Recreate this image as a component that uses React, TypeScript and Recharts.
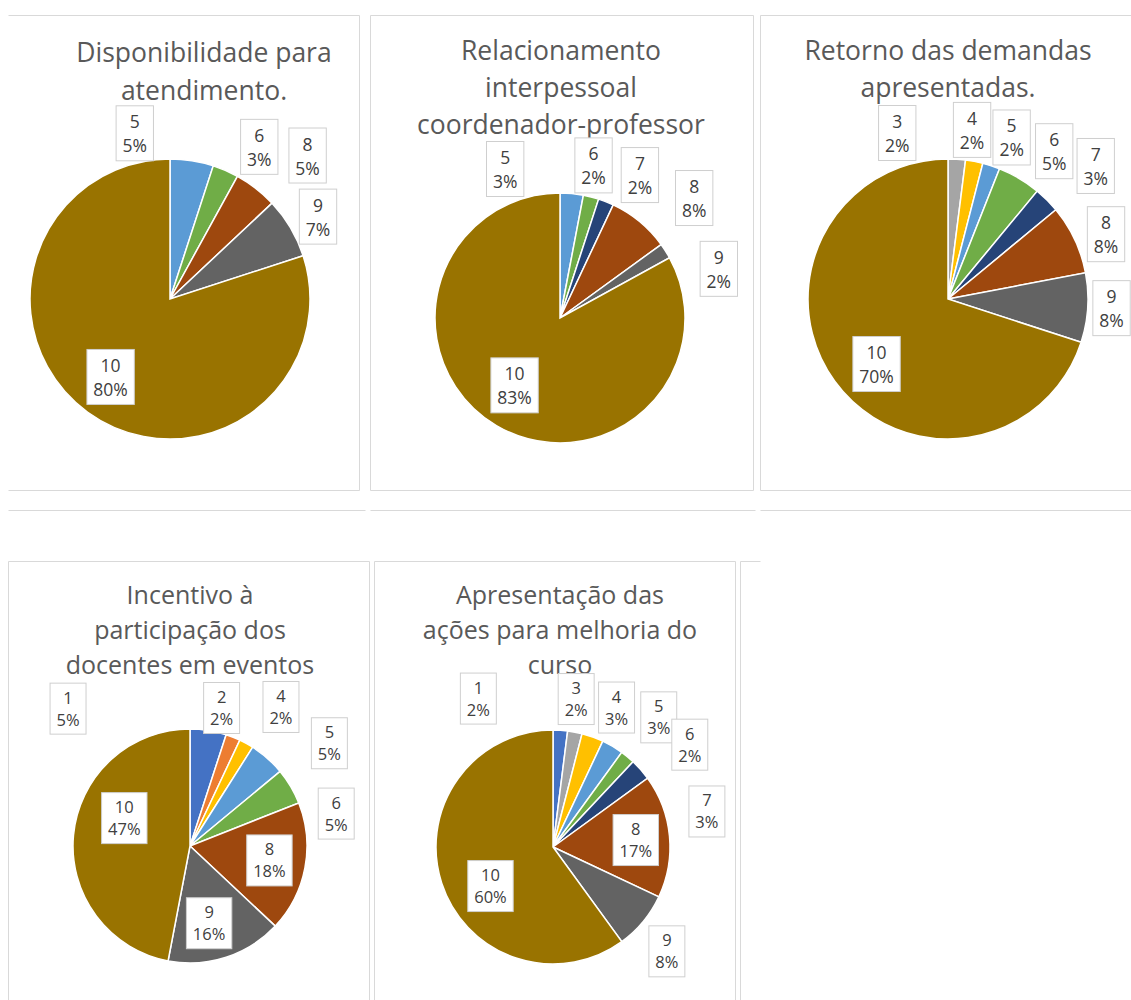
import React from "react";
import { PieChart, Pie, Cell } from "recharts";

/* ── category colours (Excel office palette, one per score) ───────── */
const COLORS: Record<string, string> = {
  "1": "#4472C4",
  "2": "#ED7D31",
  "3": "#A5A5A5",
  "4": "#FFC000",
  "5": "#5B9BD5",
  "6": "#70AD47",
  "7": "#264478",
  "8": "#9E480E",
  "9": "#636363",
  "10": "#997300",
};

/* ── data (percent share of each score) ──────────────────────────── */
const dispCats = ["5", "6", "8", "9", "10"];
const dispVals = [5, 3, 5, 7, 80];

const relCats = ["5", "6", "7", "8", "9", "10"];
const relVals = [3, 2, 2, 8, 2, 83];

const retCats = ["3", "4", "5", "6", "7", "8", "9", "10"];
const retVals = [2, 2, 2, 5, 3, 8, 8, 70];

const incCats = ["1", "2", "4", "5", "6", "8", "9", "10"];
const incVals = [5, 2, 2, 5, 5, 18, 16, 47];

const apsCats = ["1", "3", "4", "5", "6", "7", "8", "9", "10"];
const apsVals = [2, 2, 3, 3, 2, 3, 17, 8, 60];

/* label placement: [radius factor, angular nudge in deg clockwise] */
const dispLabels = [[1.21, -21], [1.26, 7], [1.42, 6], [1.21, 1.5], [0.7, 1.3]];
const relLabels = [[1.27, -25.6], [1.25, -2], [1.31, 7.6], [1.44, 8.6], [1.33, 15.2], [0.65, 3.4]];
const retLabels = [[1.24, -20.6], [1.22, -2.7], [1.24, 3.5], [1.3, 5.1], [1.42, 3], [1.22, 2.9], [1.17, -0.4], [0.69, -6.3]];
const incLabels = [[1.57, -50.6], [1.21, -8.7], [1.42, 4.4], [1.48, 12.2], [1.28, 18.1], [0.69, -0.5], [0.68, 4.1], [0.61, 17.6]];
const apsLabels = [[1.42, -30.3], [1.28, -1.9], [1.31, 4.7], [1.43, 8.6], [1.46, 13.6], [1.35, 28.4], [0.71, 0.6], [1.32, 2.9], [0.63, -14]];

const FONT = '"Open Sans", "Noto Sans", sans-serif';
const FRAME = "#D9D9D9";

function textWidth(s: string, size: number) {
  let w = 0;
  for (const ch of s) w += ch === "%" ? 0.82 : 0.572;
  return w * size;
}

function makeLabel(layout: number[][], fontSize: number, gap: number, boxH: number) {
  return (props: any) => {
    const { cx, cy, midAngle, outerRadius, index, percent } = props;
    const cat = props.cat ?? props.payload?.cat ?? props.name;
    const [rf, nudge] = layout[index] || [1.2, 0];
    const t = ((90 - midAngle + nudge) * Math.PI) / 180;
    const x = cx + outerRadius * rf * Math.sin(t);
    const y = cy - outerRadius * rf * Math.cos(t);
    const pct = `${Math.round(percent * 100)}%`;
    const w = textWidth(pct, fontSize) + 13;
    return (
      <g key={`lbl-${index}`}>
        <rect
          x={x - w / 2}
          y={y - boxH / 2}
          width={w}
          height={boxH}
          fill="#fff"
          stroke="#CFCFCF"
          strokeWidth={1}
        />
        <text
          x={x}
          textAnchor="middle"
          fontFamily={FONT}
          fontSize={fontSize}
          fill="#404040"
        >
          <tspan x={x} y={y - 5}>{cat}</tspan>
          <tspan x={x} y={y - 5 + gap}>{pct}</tspan>
        </text>
      </g>
    );
  };
}

interface PanelProps {
  left: number;
  top: number;
  width: number;
  height: number;
  cx: number;
  cy: number;
  r: number;
  cats: string[];
  vals: number[];
  layout: number[][];
  fontSize: number;
  gap: number;
  boxH: number;
}

function PiePanel(p: PanelProps) {
  const data = p.cats.map((c, i) => ({ cat: c, value: p.vals[i] }));
  return (
    <div style={{ position: "absolute", left: p.left, top: p.top, width: p.width, height: p.height }}>
      <PieChart width={p.width} height={p.height} margin={{ top: 0, right: 0, bottom: 0, left: 0 }}>
        <Pie
          data={data}
          dataKey="value"
          nameKey="cat"
          cx={p.cx}
          cy={p.cy}
          outerRadius={p.r}
          startAngle={90}
          endAngle={-270}
          stroke="#fff"
          strokeWidth={1.5}
          labelLine={false}
          label={makeLabel(p.layout, p.fontSize, p.gap, p.boxH)}
          isAnimationActive={false}
        >
          {data.map((d) => (
            <Cell key={d.cat} fill={COLORS[d.cat]} />
          ))}
        </Pie>
      </PieChart>
    </div>
  );
}

const titles = [
  { x: 204, y: 62, gap: 38, size: 26.5, lines: ["Disponibilidade para", "atendimento."] },
  { x: 561, y: 60, gap: 37, size: 26.5, lines: ["Relacionamento", "interpessoal", "coordenador-professor"] },
  { x: 948, y: 60, gap: 37, size: 26.5, lines: ["Retorno das demandas", "apresentadas."] },
  { x: 190, y: 604, gap: 34.8, size: 25, lines: ["Incentivo à", "participação dos", "docentes em eventos"] },
  { x: 560, y: 604, gap: 34.8, size: 25, lines: ["Apresentação das", "ações para melhoria do", "curso"] },
];

// frame lines [x1, y1, x2, y2]
const frameLines = [
  [8, 15, 359, 15], [8, 490, 359, 490], [359, 15, 359, 490],
  [370, 15, 753, 15], [370, 490, 753, 490], [370, 15, 370, 490], [753, 15, 753, 490],
  [760, 15, 1131, 15], [760, 490, 1131, 490], [760, 15, 760, 490],
  [8, 510, 365, 510], [370, 510, 755, 510], [760, 510, 1131, 510],
  [8, 561, 369, 561], [8, 561, 8, 1000], [369, 561, 369, 1000],
  [374, 561, 735, 561], [374, 561, 374, 1000], [735, 561, 735, 1000],
  [740, 561, 760, 561], [740, 561, 740, 1000],
];

export default function App() {
  return (
    <div style={{ position: "absolute", left: 0, top: 0, width: 1131, height: 1000, background: "#fff", overflow: "hidden" }}>
      <svg width={1131} height={1000} style={{ position: "absolute", left: 0, top: 0 }}>
        {frameLines.map(([x1, y1, x2, y2], i) => (
          <line key={i} x1={x1 + 0.5} y1={y1 + 0.5} x2={x2 + 0.5} y2={y2 + 0.5} stroke={FRAME} strokeWidth={1} />
        ))}
        {titles.map((t, i) => (
          <text key={i} textAnchor="middle" fontFamily={FONT} fontSize={t.size} fill="#595959">
            {t.lines.map((l, j) => (
              <tspan key={j} x={t.x} y={t.y + j * t.gap}>{l}</tspan>
            ))}
          </text>
        ))}
      </svg>
      <PiePanel left={8} top={15} width={351} height={475} cx={162} cy={284} r={140}
        cats={dispCats} vals={dispVals} layout={dispLabels} fontSize={17.5} gap={24} boxH={55} />
      <PiePanel left={371} top={15} width={382} height={475} cx={189} cy={303} r={125}
        cats={relCats} vals={relVals} layout={relLabels} fontSize={17.5} gap={24} boxH={55} />
      <PiePanel left={761} top={15} width={370} height={475} cx={187} cy={284} r={140}
        cats={retCats} vals={retVals} layout={retLabels} fontSize={17.5} gap={24} boxH={55} />
      <PiePanel left={9} top={562} width={360} height={438} cx={181} cy={284} r={117}
        cats={incCats} vals={incVals} layout={incLabels} fontSize={16.5} gap={22} boxH={51} />
      <PiePanel left={375} top={562} width={360} height={438} cx={178} cy={285} r={117}
        cats={apsCats} vals={apsVals} layout={apsLabels} fontSize={16.5} gap={22} boxH={51} />
    </div>
  );
}
